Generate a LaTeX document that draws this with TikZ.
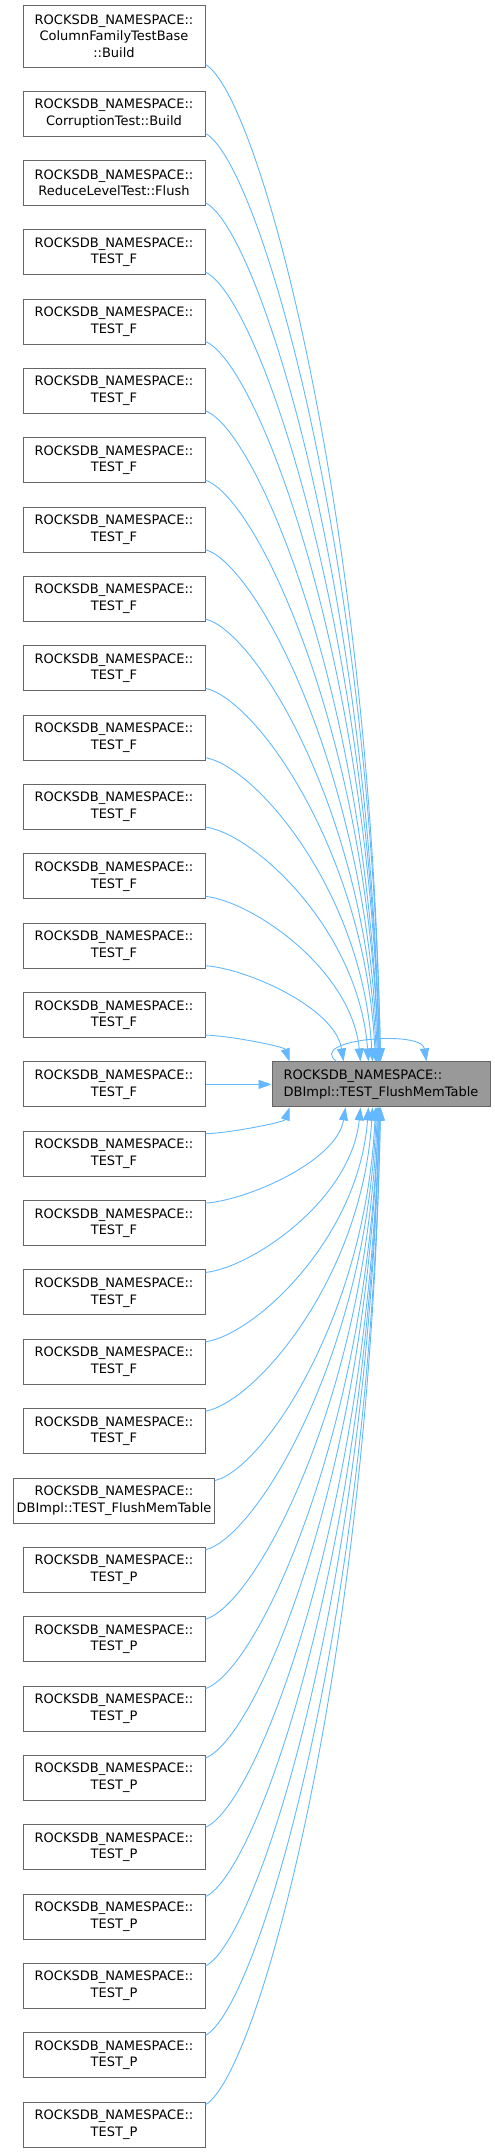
\documentclass[tikz,border=0pt]{standalone}
\usepackage{fontspec}
\usepackage{xcolor}
\usepackage{tikz}
\usetikzlibrary{arrows.meta,positioning,calc}
\newfontfamily\dvs{DejaVu Sans}
\definecolor{edgeblue}{HTML}{63B8FF}
\definecolor{boxline}{HTML}{666666}
\definecolor{boxfill}{HTML}{999999}

\begin{document}
\begin{tikzpicture}[
  x=1pt, y=1pt,
  node distance=23.35pt and 66pt,
  fn/.style={draw=boxline, line width=1pt, fill=white, minimum width=182pt, minimum height=45pt, inner sep=3pt, align=center, font=\dvs\fontsize{13}{16.7}\selectfont},
  tgt/.style={draw=boxline, line width=1pt, fill=boxfill, minimum width=218pt, minimum height=45pt, inner sep=3pt, align=left, font=\dvs\fontsize{13}{16.7}\selectfont},
  edge/.style={draw=edgeblue, line width=0.9pt, -{Triangle[length=13pt, width=9pt]}, edgeblue}
]
  \useasboundingbox (0,0) rectangle (495,-2152);

  % Callers
  \node[fn, minimum height=62pt] (n0) at (114,-36) {ROCKSDB\_NAMESPACE::\\ColumnFamilyTestBase\\::Build};
  \node[fn, below=23pt of n0] (n1) {ROCKSDB\_NAMESPACE::\\CorruptionTest::Build};
  \node[fn, below=of n1] (n2) {ROCKSDB\_NAMESPACE::\\ReduceLevelTest::Flush};
  \node[fn, below=of n2] (n3) {ROCKSDB\_NAMESPACE::\\TEST\_F};
  \node[fn, below=of n3] (n4) {ROCKSDB\_NAMESPACE::\\TEST\_F};
  \node[fn, below=of n4] (n5) {ROCKSDB\_NAMESPACE::\\TEST\_F};
  \node[fn, below=of n5] (n6) {ROCKSDB\_NAMESPACE::\\TEST\_F};
  \node[fn, below=of n6] (n7) {ROCKSDB\_NAMESPACE::\\TEST\_F};
  \node[fn, below=of n7] (n8) {ROCKSDB\_NAMESPACE::\\TEST\_F};
  \node[fn, below=of n8] (n9) {ROCKSDB\_NAMESPACE::\\TEST\_F};
  \node[fn, below=of n9] (n10) {ROCKSDB\_NAMESPACE::\\TEST\_F};
  \node[fn, below=of n10] (n11) {ROCKSDB\_NAMESPACE::\\TEST\_F};
  \node[fn, below=of n11] (n12) {ROCKSDB\_NAMESPACE::\\TEST\_F};
  \node[fn, below=of n12] (n13) {ROCKSDB\_NAMESPACE::\\TEST\_F};
  \node[fn, below=of n13] (n14) {ROCKSDB\_NAMESPACE::\\TEST\_F};
  \node[fn, below=of n14] (n15) {ROCKSDB\_NAMESPACE::\\TEST\_F};
  \node[fn, below=of n15] (n16) {ROCKSDB\_NAMESPACE::\\TEST\_F};
  \node[fn, below=of n16] (n17) {ROCKSDB\_NAMESPACE::\\TEST\_F};
  \node[fn, below=of n17] (n18) {ROCKSDB\_NAMESPACE::\\TEST\_F};
  \node[fn, below=of n18] (n19) {ROCKSDB\_NAMESPACE::\\TEST\_F};
  \node[fn, below=of n19] (n20) {ROCKSDB\_NAMESPACE::\\TEST\_F};
  \node[fn, below=of n20] (n21) {ROCKSDB\_NAMESPACE::\\DBImpl::TEST\_FlushMemTable};
  \node[fn, below=of n21] (n22) {ROCKSDB\_NAMESPACE::\\TEST\_P};
  \node[fn, below=of n22] (n23) {ROCKSDB\_NAMESPACE::\\TEST\_P};
  \node[fn, below=of n23] (n24) {ROCKSDB\_NAMESPACE::\\TEST\_P};
  \node[fn, below=of n24] (n25) {ROCKSDB\_NAMESPACE::\\TEST\_P};
  \node[fn, below=of n25] (n26) {ROCKSDB\_NAMESPACE::\\TEST\_P};
  \node[fn, below=of n26] (n27) {ROCKSDB\_NAMESPACE::\\TEST\_P};
  \node[fn, below=of n27] (n28) {ROCKSDB\_NAMESPACE::\\TEST\_P};
  \node[fn, below=of n28] (n29) {ROCKSDB\_NAMESPACE::\\TEST\_P};
  \node[fn, below=of n29] (n30) {ROCKSDB\_NAMESPACE::\\TEST\_P};

  % Called function
  \node[tgt, right=of n15] (t) {ROCKSDB\_NAMESPACE::\\DBImpl::TEST\_FlushMemTable};

  % Calls from above
  \foreach \k/\o in {0/109,1/109,2/108,3/108,4/108,5/107,6/107,7/106,8/105,9/104,10/101,11/97,12/89,13/72,14/18}
    \draw[edge] let \p1=([yshift=3pt]n\k.south east), \p2=([xshift=\o pt]t.north west),
      \n1={\x2-\x1}, \n2={\y1-\y2} in
      (\p1) .. controls +(0.3*\n1,-0.03*\n2) and +(-0.06*\n1,0.56*\n2) .. (\p2);

  % Calls from below
  \foreach \k/\o in {16/18,17/74,18/89,19/97,20/101,21/104,22/105,23/106,24/107,25/107,26/108,27/108,28/108,29/109,30/109}
    \draw[edge] let \p1=([yshift=-3pt]n\k.north east), \p2=([xshift=\o pt]t.south west),
      \n1={\x2-\x1}, \n2={\y2-\y1} in
      (\p1) .. controls +(0.3*\n1,0.03*\n2) and +(-0.06*\n1,-0.56*\n2) .. (\p2);

  \draw[edge] (n15) -- (t);

  % Recursive call
  \draw[edge] ([xshift=65pt]t.north west) .. controls +(-30,22) and +(-5,32) .. ([xshift=155pt]t.north west);
\end{tikzpicture}
\end{document}
